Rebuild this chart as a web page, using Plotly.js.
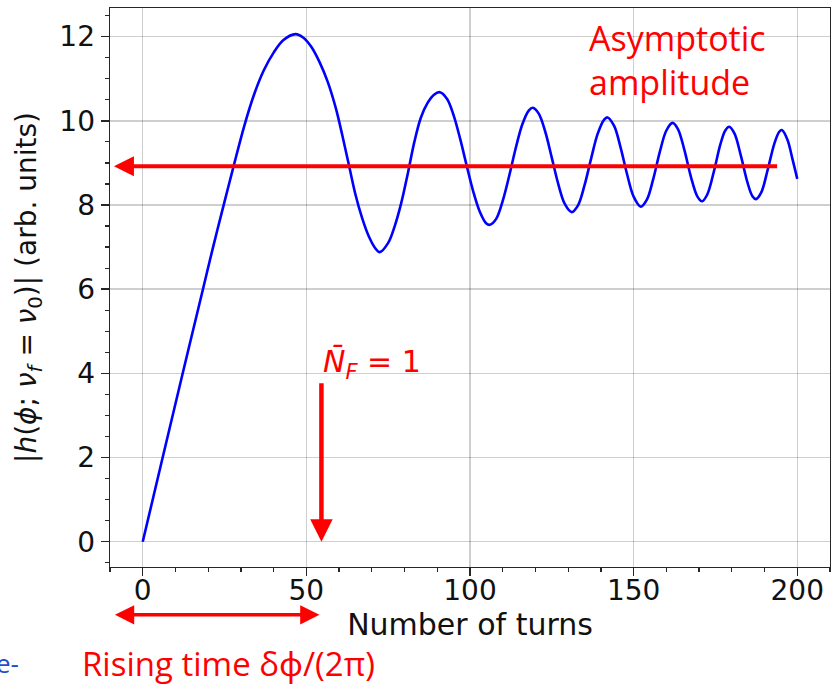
<!DOCTYPE html>
<html>
<head>
<meta charset="utf-8">
<script src="https://cdn.plot.ly/plotly-3.0.1.min.js"></script>
<style>
  html, body { margin: 0; padding: 0; background: #fff; overflow: hidden; }
  #chart { width: 831px; height: 684px; }
</style>
</head>
<body>
<div id="chart"></div>
<script>
// Number of turns (x) and |h| amplitude (y)
const turns = [0, 6.0, 12.0, 18.4, 21.5, 24.9, 27.7, 31.1, 34.0, 37.0,
  40.0, 43.0, 46.7, 49.0, 51.5, 54.0, 56.5, 59.0, 61.0, 63.0,
  65.0, 67.0, 69.0, 71.0, 72.4, 75.0, 77.0, 79.0, 81.0, 83.0,
  85.0, 87.0, 89.0, 90.8, 93.0, 95.0, 97.0, 99.0, 101.0, 103.0,
  105.0, 106.1, 108.0, 110.0, 112.0, 114.0, 116.0, 118.0, 119.2, 121.0,
  123.0, 125.0, 127.0, 129.0, 131.1, 133.0, 135.0, 137.0, 139.0, 141.0,
  142.0, 144.0, 146.0, 148.0, 150.0, 152.2, 154.0, 156.0, 158.0, 160.0,
  161.9, 163.5, 165.5, 167.5, 169.5, 170.9, 172.5, 174.5, 176.5, 178.0,
  179.2, 180.8, 182.8, 184.8, 186.3, 187.4, 189.0, 191.0, 193.0, 194.5,
  195.3, 197.0, 198.5, 200.0];
const amplitude = [0, 1.97, 3.93, 6.0, 7.0, 8.05, 8.9, 9.9, 10.62, 11.2,
  11.62, 11.92, 12.06, 11.98, 11.76, 11.4, 10.93, 10.3, 9.65, 8.95,
  8.25, 7.7, 7.27, 6.98, 6.88, 7.1, 7.5, 8.05, 8.75, 9.5,
  10.08, 10.42, 10.62, 10.68, 10.52, 10.13, 9.57, 8.93, 8.32, 7.84,
  7.56, 7.53, 7.67, 8.10, 8.70, 9.36, 9.92, 10.25, 10.31, 10.17,
  9.74, 9.12, 8.49, 8.02, 7.83, 7.99, 8.47, 9.10, 9.69, 10.03,
  10.08, 9.885, 9.37, 8.73, 8.20, 7.96, 8.12, 8.62, 9.26, 9.77,
  9.95, 9.81, 9.31, 8.67, 8.20, 8.09, 8.25, 8.79, 9.44, 9.77,
  9.86, 9.70, 9.16, 8.53, 8.21, 8.14, 8.30, 8.85, 9.46, 9.74,
  9.78, 9.55, 9.10, 8.62];

// Annotation values
const asymptote = 8.92;          // level of the horizontal arrow
const asymArrowFrom = 194.3;     // tail of the horizontal arrow (turns)
const asymArrowTo = -8.8;        // head of the horizontal arrow (turns)
const nfTurns = 54.6;            // position of the N_F = 1 arrow (turns)
const nfArrowTop = 3.8;          // tail of the vertical arrow
const riseStart = -8.95;         // left tip of the rising-time arrow
const riseEnd = 54.0;            // right tip of the rising-time arrow

const xTicks = [0, 50, 100, 150, 200];
const yTicks = [0, 2, 4, 6, 8, 10, 12];

const RED = '#ff0000';
const TXT = "'Open Sans', 'Noto Sans', sans-serif";
const MATH = "'DejaVu Sans', sans-serif";

const trace = {
  x: turns, y: amplitude, type: 'scatter', mode: 'lines',
  line: { color: '#0000ff', width: 2.6, shape: 'spline', smoothing: 1 },
  hoverinfo: 'skip', showlegend: false
};

const axisCommon = {
  showline: true, mirror: true, linecolor: '#262626', linewidth: 1.4,
  ticks: 'outside', ticklen: 8, tickwidth: 1.4, tickcolor: '#262626',
  showgrid: true, gridcolor: 'rgba(0,0,0,0.19)', gridwidth: 1.5,
  zeroline: false,
  tickfont: { family: MATH, size: 28, color: '#111' }
};

const layout = {
  width: 831, height: 684,
  margin: { l: 110, r: 1, t: 8, b: 117 },
  paper_bgcolor: '#ffffff', plot_bgcolor: '#ffffff',
  xaxis: Object.assign({}, axisCommon, {
    range: [-10, 210], tickmode: 'array', tickvals: xTicks, ticktext: xTicks.map(String),
    ticklabelstandoff: -10,
    minor: { dtick: 10, tick0: 0, ticklen: 4, tickwidth: 1.2, tickcolor: '#262626', showgrid: false, ticks: 'outside' },
    title: { text: 'Number of turns', font: { family: MATH, size: 30, color: '#111' }, standoff: 6 }
  }),
  yaxis: Object.assign({}, axisCommon, {
    range: [-0.6, 12.68], tickmode: 'array', tickvals: yTicks, ticktext: yTicks.map(String),
    minor: { dtick: 0.5, tick0: 0, ticklen: 4, tickwidth: 1.2, tickcolor: '#262626', showgrid: false, ticks: 'outside' },
    title: { text: '|<i>h</i>(<i>ϕ</i>; <i>ν</i><sub><i>f</i></sub> = <i>ν</i><sub>0</sub>)| (arb. units)',
             font: { family: MATH, size: 28, color: '#111' }, standoff: 14 }
  }),
  annotations: [
    { // asymptotic amplitude arrow
      x: asymArrowTo, y: asymptote, xref: 'x', yref: 'y',
      ax: asymArrowFrom, ay: asymptote, axref: 'x', ayref: 'y',
      text: '', showarrow: true, arrowhead: 2, arrowsize: 1, arrowwidth: 4, arrowcolor: RED
    },
    { // N_F = 1 vertical arrow
      x: nfTurns, y: 0, xref: 'x', yref: 'y',
      ax: nfTurns, ay: nfArrowTop, axref: 'x', ayref: 'y',
      text: '', showarrow: true, arrowhead: 2, arrowsize: 1, arrowwidth: 4.5, arrowcolor: RED
    },
    { // rising time double arrow (below the axis)
      x: riseEnd, y: -0.0855, xref: 'x', yref: 'paper',
      ax: riseStart, ay: 0, axref: 'x', ayref: 'pixel',
      text: '', showarrow: true, arrowside: 'end+start', arrowhead: 2, startarrowhead: 2,
      arrowsize: 1.1, startarrowsize: 1.1, arrowwidth: 3.5, arrowcolor: RED
    },
    {
      x: 135.6, y: 11.45, xref: 'x', yref: 'y', xanchor: 'left', yanchor: 'middle', align: 'left',
      text: 'Asymptotic<br>amplitude', showarrow: false,
      font: { family: TXT, size: 34, color: RED }
    },
    {
      x: 54.4, y: 4.22, xref: 'x', yref: 'y', xanchor: 'left', yanchor: 'middle',
      text: '<i>N̄</i><sub><i>F</i></sub> = 1', showarrow: false,
      font: { family: MATH, size: 30, color: RED }
    },
    {
      x: -0.042, y: -0.172, xref: 'paper', yref: 'paper', xanchor: 'left', yanchor: 'middle',
      text: 'Rising time δϕ/(2π)', showarrow: false,
      font: { family: TXT, size: 33, color: RED }
    },
    {
      x: -0.124, y: -0.172, xref: 'paper', yref: 'paper', xanchor: 'right', yanchor: 'middle',
      text: 'e-', showarrow: false,
      font: { family: TXT, size: 26, color: '#1f4fd0' }
    }
  ]
};

Plotly.newPlot('chart', [trace], layout, { displayModeBar: false, staticPlot: true });
</script>
</body>
</html>
